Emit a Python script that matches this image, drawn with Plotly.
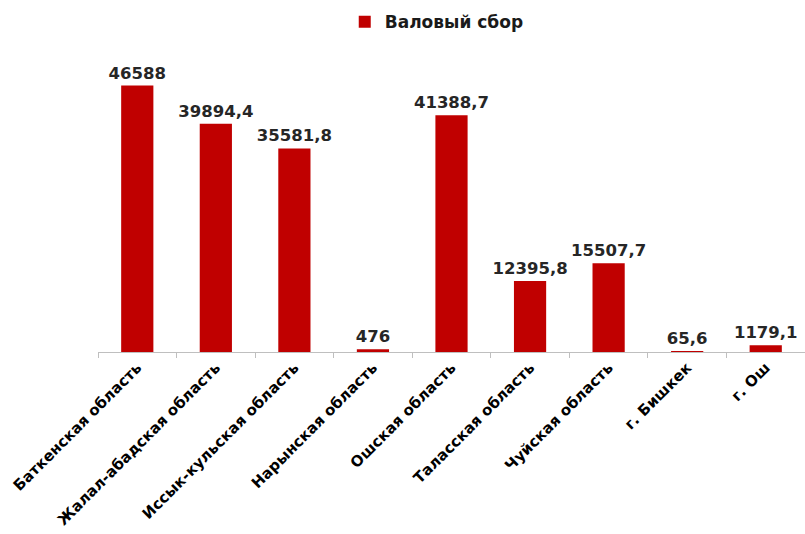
import plotly.graph_objects as go

# Валовый сбор по регионам
regions = [
    "Баткенская область",
    "Жалал-абадская область",
    "Иссык-кульская область",
    "Нарынская область",
    "Ошская область",
    "Таласская область",
    "Чуйская область",
    "г. Бишкек",
    "г. Ош",
]
gross_yield = [46588, 39894.4, 35581.8, 476, 41388.7, 12395.8, 15507.7, 65.6, 1179.1]
series_name = "Валовый сбор"


def fmt(v):
    s = ("%.1f" % v).rstrip("0").rstrip(".")
    return s.replace(".", ",")


labels = [fmt(v) for v in gross_yield]

BAR_COLOR = "#C00000"
FONT = "DejaVu Sans"

fig = go.Figure(
    go.Bar(
        x=regions,
        y=gross_yield,
        name=series_name,
        marker=dict(color=BAR_COLOR, line=dict(width=0)),
        width=0.41,
        text=labels,
        textposition="outside",
        constraintext="none",
        cliponaxis=False,
        textfont=dict(family=FONT, size=16.5, color="#262626", weight="bold"),
        showlegend=True,
    )
)

fig.update_layout(
    width=805,
    height=534,
    margin=dict(l=98, r=0, t=66, b=182, autoexpand=False),
    paper_bgcolor="white",
    plot_bgcolor="white",
    showlegend=True,
    legend=dict(
        orientation="h",
        x=0.349,
        y=0.992,
        xref="paper",
        yref="container",
        xanchor="left",
        yanchor="top",
        font=dict(family=FONT, size=17, color="#1a1a1a", weight="bold"),
        itemwidth=30,
        bgcolor="rgba(0,0,0,0)",
    ),
    bargap=0.59,
)

fig.update_xaxes(
    type="category",
    showline=True,
    linecolor="#BFBFBF",
    linewidth=1,
    ticks="outside",
    tickson="boundaries",
    ticklen=5,
    tickcolor="#BFBFBF",
    tickangle=-45,
    tickfont=dict(family=FONT, size=15, color="#000000", weight="bold"),
    showgrid=False,
    automargin=False,
)
fig.update_yaxes(
    visible=False,
    range=[0, 50000],
    showgrid=False,
    zeroline=False,
)

fig.write_html("out.html")
